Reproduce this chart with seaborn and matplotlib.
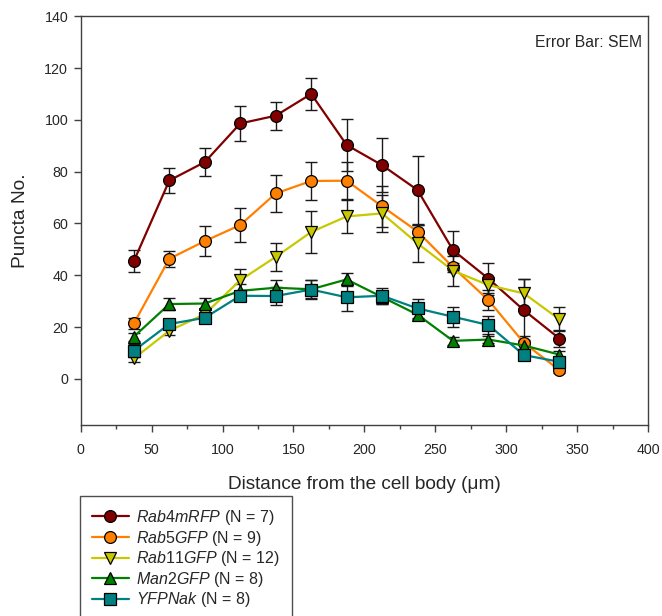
import numpy as np
import pandas as pd
import matplotlib
matplotlib.use("Agg")
import matplotlib.pyplot as plt
import seaborn as sns
from matplotlib.ticker import MultipleLocator

distance = [37.5, 62.5, 87.5, 112.5, 137.5, 162.5, 187.5, 212.5, 237.5, 262.5, 287.5, 312.5, 337.5]

series_names = ["Rab4mRFP", "Rab5GFP", "Rab11GFP", "Man2GFP", "YFPNak"]
series_n = [7, 9, 12, 8, 8]

rab4_mean = [45.5, 76.6, 83.7, 98.6, 101.6, 110.0, 90.3, 82.5, 72.9, 49.7, 38.7, 26.5, 15.6]
rab4_sem = [4.2, 5.0, 5.4, 6.8, 5.4, 6.1, 10.1, 10.3, 13.0, 7.5, 6.2, 12.0, 3.2]
rab5_mean = [21.4, 46.4, 53.2, 59.4, 71.6, 76.4, 76.5, 66.6, 56.9, 43.1, 30.4, 13.9, 3.4]
rab5_sem = [2.0, 3.1, 5.9, 6.4, 7.3, 7.4, 7.2, 8.0, 2.5, 1.7, 3.8, 2.5, 1.0]
rab11_mean = [7.9, 18.6, 25.0, 38.1, 47.1, 56.7, 62.7, 63.9, 52.3, 41.8, 36.2, 33.0, 23.0]
rab11_sem = [1.5, 1.5, 1.8, 4.2, 5.5, 8.1, 6.3, 7.0, 7.0, 5.8, 3.0, 5.5, 4.6]
man2_mean = [16.3, 28.9, 29.1, 34.0, 35.2, 34.6, 38.4, 31.6, 24.8, 14.7, 15.2, 12.9, 9.4]
man2_sem = [1.5, 2.2, 2.0, 2.5, 3.0, 3.5, 2.6, 2.5, 1.5, 1.5, 1.5, 2.0, 1.5]
yfp_mean = [10.9, 21.2, 23.6, 32.1, 32.0, 34.5, 31.5, 32.1, 27.2, 24.0, 20.8, 9.2, 6.6]
yfp_sem = [2.5, 2.0, 2.0, 2.0, 3.4, 3.8, 5.2, 3.0, 3.5, 3.8, 3.5, 2.0, 2.0]

means = [rab4_mean, rab5_mean, rab11_mean, man2_mean, yfp_mean]
sems = [rab4_sem, rab5_sem, rab11_sem, man2_sem, yfp_sem]

colors = ["#800000", "#FF8000", "#C8C800", "#008000", "#008080"]
marker_list = ["o", "o", "v", "^", "s"]

x_ticks = [0, 50, 100, 150, 200, 250, 300, 350, 400]
y_ticks = [0, 20, 40, 60, 80, 100, 120, 140]

sns.set_theme(style="white")
plt.rcParams["font.family"] = ["Liberation Sans", "DejaVu Sans"]
plt.rcParams["mathtext.fontset"] = "custom"
plt.rcParams["mathtext.it"] = "Liberation Sans:italic"
plt.rcParams["mathtext.rm"] = "Liberation Sans"

labels = [r"$\mathit{%s}$ (N = %d)" % (n, k) for n, k in zip(series_names, series_n)]

rows = []
for lab, m, s in zip(labels, means, sems):
    for d, mv, sv in zip(distance, m, s):
        rows.append({"Distance": d, "Puncta": mv, "SEM": sv, "Series": lab})
df = pd.DataFrame(rows)

fig = plt.figure(figsize=(6.62, 6.16), dpi=100)
ax = fig.add_axes([0.1219, 0.31, 0.857, 0.6637])

for lab, col in zip(labels, colors):
    sub = df[df["Series"] == lab]
    ax.errorbar(sub["Distance"], sub["Puncta"], yerr=sub["SEM"], fmt="none",
                ecolor="#1a1a1a", elinewidth=1.0, capsize=4.5, capthick=1.0, zorder=1.5)

sns.lineplot(data=df, x="Distance", y="Puncta", hue="Series", style="Series",
             palette=dict(zip(labels, colors)), markers=dict(zip(labels, marker_list)),
             dashes=False, linewidth=1.6, markersize=8.5, markeredgecolor="black",
             markeredgewidth=0.9, ax=ax, legend=True, zorder=3)

ax.set_xlim(0, 400)
ax.set_ylim(-17.8, 140)
ax.set_xticks(x_ticks)
ax.set_yticks(y_ticks)
ax.xaxis.set_minor_locator(MultipleLocator(25))
ax.tick_params(axis="both", which="major", direction="out", length=5, width=1,
               color="#404040", labelsize=10.3, bottom=True, left=True, pad=4)
ax.tick_params(axis="x", which="major", pad=8)
ax.tick_params(axis="x", which="minor", direction="out", length=3, width=1,
               color="#404040", bottom=True)
for sp in ax.spines.values():
    sp.set_color("#404040")
    sp.set_linewidth(1.0)

ax.set_xlabel("Distance from the cell body (\u03bcm)", fontsize=13.7, labelpad=13.5)
ax.set_ylabel("Puncta No.", fontsize=13.8, labelpad=11)
ax.grid(False)

ax.text(0.99, 0.955, "Error Bar: SEM", transform=ax.transAxes, ha="right", va="top",
        fontsize=11.3)

handles, hl = ax.get_legend_handles_labels()
ax.legend_.remove()
leg = fig.legend(handles, hl, loc="upper left", bbox_to_anchor=(80 / 662, 1 - 496 / 616),
                 frameon=True, fancybox=False, edgecolor="#222222", fontsize=11.5,
                 handlelength=2.3, handletextpad=0.45, labelspacing=0.1,
                 borderpad=0.75, borderaxespad=0)
leg.get_frame().set_linewidth(1.0)

fig.savefig("out.png", dpi=100)
